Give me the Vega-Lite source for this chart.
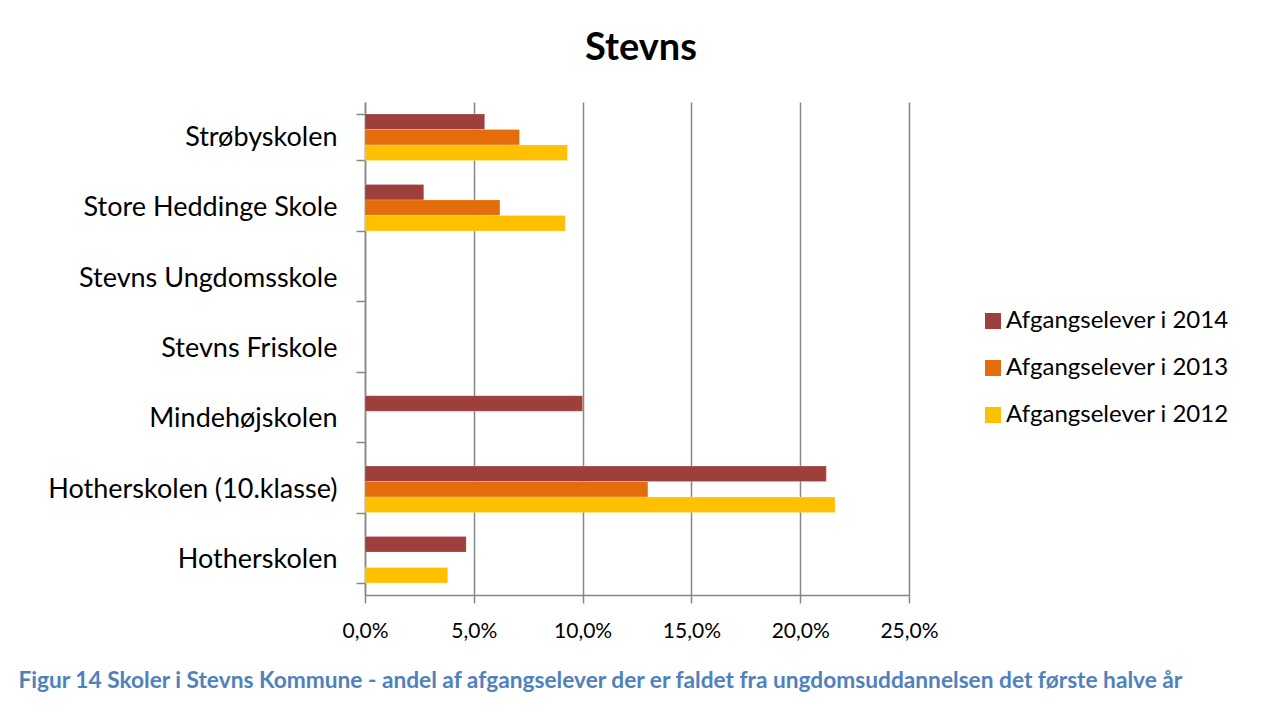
{
  "$schema": "https://vega.github.io/schema/vega-lite/v6.json",
  "autosize": {"type": "none"},
  "padding": {"left": 365, "top": 102, "right": 368, "bottom": 122},
  "width": 544,
  "height": 493,
  "background": "white",
  "title": {
    "text": "Stevns",
    "font": "Lato",
    "fontSize": 38,
    "fontWeight": "bold",
    "color": "black",
    "anchor": "middle",
    "baseline": "alphabetic",
    "offset": -10,
    "dx": 4
  },
  "data": {
    "values": [
      {"skole": "Strøbyskolen", "serie": "Afgangselever i 2014", "andel": 0.055},
      {"skole": "Strøbyskolen", "serie": "Afgangselever i 2013", "andel": 0.071},
      {"skole": "Strøbyskolen", "serie": "Afgangselever i 2012", "andel": 0.093},
      {"skole": "Store Heddinge Skole", "serie": "Afgangselever i 2014", "andel": 0.027},
      {"skole": "Store Heddinge Skole", "serie": "Afgangselever i 2013", "andel": 0.062},
      {"skole": "Store Heddinge Skole", "serie": "Afgangselever i 2012", "andel": 0.092},
      {"skole": "Mindehøjskolen", "serie": "Afgangselever i 2014", "andel": 0.1},
      {"skole": "Hotherskolen (10.klasse)", "serie": "Afgangselever i 2014", "andel": 0.212},
      {"skole": "Hotherskolen (10.klasse)", "serie": "Afgangselever i 2013", "andel": 0.13},
      {"skole": "Hotherskolen (10.klasse)", "serie": "Afgangselever i 2012", "andel": 0.216},
      {"skole": "Hotherskolen", "serie": "Afgangselever i 2014", "andel": 0.0465},
      {"skole": "Hotherskolen", "serie": "Afgangselever i 2012", "andel": 0.038}
    ]
  },
  "mark": {"type": "bar", "stroke": "white", "strokeOpacity": 0.4, "strokeWidth": 0.5},
  "encoding": {
    "y": {
      "field": "skole",
      "type": "nominal",
      "scale": {
        "domain": ["Strøbyskolen", "Store Heddinge Skole", "Stevns Ungdomsskole", "Stevns Friskole", "Mindehøjskolen", "Hotherskolen (10.klasse)", "Hotherskolen"],
        "paddingInner": 0.34,
        "paddingOuter": 0.17
      },
      "axis": {
        "title": null,
        "tickBand": "extent",
        "tickSize": 9,
        "tickColor": "#868686",
        "tickWidth": 1.5,
        "domainColor": "#868686",
        "domainWidth": 1.5,
        "labelFont": "Lato",
        "labelFontSize": 27,
        "labelColor": "black",
        "labelPadding": 19,
        "labelLimit": 400
      }
    },
    "yOffset": {
      "field": "serie",
      "type": "nominal",
      "sort": ["Afgangselever i 2014", "Afgangselever i 2013", "Afgangselever i 2012"],
      "scale": {"domain": ["Afgangselever i 2014", "Afgangselever i 2013", "Afgangselever i 2012"], "paddingInner": 0, "paddingOuter": 0}
    },
    "x": {
      "field": "andel",
      "type": "quantitative",
      "scale": {"domain": [0, 0.25], "nice": false},
      "axis": {
        "values": [0, 0.05, 0.1, 0.15, 0.2, 0.25],
        "labelExpr": "replace(format(datum.value, '.1%'), '.', ',')",
        "grid": true,
        "gridColor": "#868686",
        "gridWidth": 1.5,
        "tickSize": 8,
        "tickColor": "#868686",
        "tickWidth": 1.5,
        "domainColor": "#868686",
        "domainWidth": 1.5,
        "labelFont": "Lato",
        "labelFontSize": 21,
        "labelColor": "black",
        "labelPadding": 17,
        "labelFlush": false,
        "title": "Figur 14 Skoler i Stevns Kommune - andel af afgangselever der er faldet fra ungdomsuddannelsen det første halve år",
        "titleFont": "Lato",
        "titleFontSize": 22.7,
        "titleFontWeight": "bold",
        "titleColor": "#4F81BD",
        "titleAnchor": "start",
        "titleAlign": "left",
        "titleBaseline": "alphabetic",
        "titleX": -347,
        "titleY": 92,
        "titleLimit": 1300
      }
    },
    "color": {
      "field": "serie",
      "type": "nominal",
      "scale": {
        "domain": ["Afgangselever i 2014", "Afgangselever i 2013", "Afgangselever i 2012"],
        "range": ["#9E3F3C", "#E46C0A", "#FFC000"]
      },
      "legend": {
        "title": null,
        "orient": "none",
        "legendX": 616,
        "legendY": 207,
        "symbolType": "square",
        "symbolSize": 256,
        "symbolStrokeWidth": 0,
        "symbolOpacity": 1,
        "labelFont": "Lato",
        "labelFontSize": 24,
        "labelColor": "black",
        "labelOffset": 1,
        "rowPadding": 23,
        "labelLimit": 400
      }
    }
  },
  "config": {
    "view": {"stroke": null}
  }
}
